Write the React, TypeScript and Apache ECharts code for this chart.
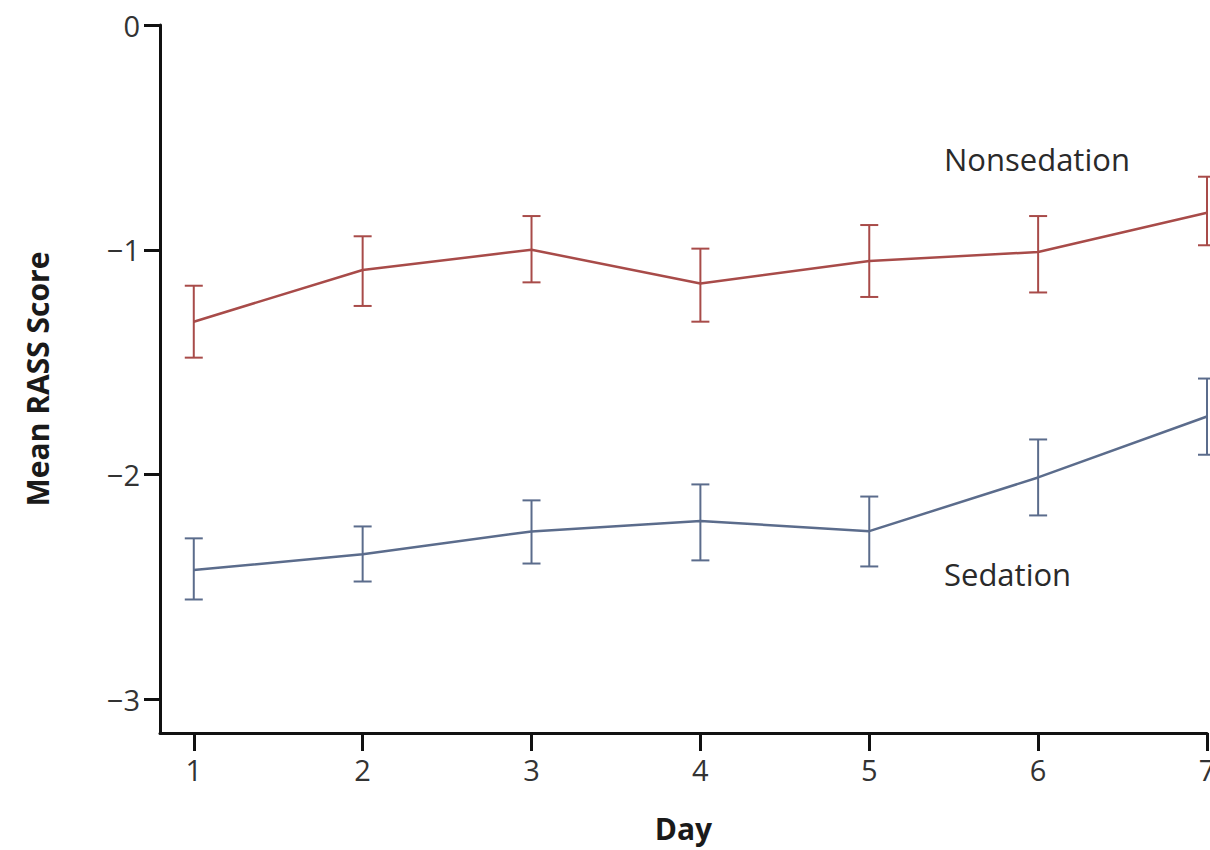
import React, { useEffect, useRef } from "react";
import * as echarts from "echarts";

const days = [1, 2, 3, 4, 5, 6, 7];
const nonsedationMean = [-1.32, -1.09, -1.0, -1.15, -1.05, -1.01, -0.835];
const nonsedationHigh = [-1.16, -0.94, -0.85, -0.995, -0.89, -0.85, -0.675];
const nonsedationLow = [-1.48, -1.25, -1.145, -1.32, -1.21, -1.19, -0.98];
const sedationMean = [-2.425, -2.355, -2.253, -2.207, -2.252, -2.013, -1.742];
const sedationHigh = [-2.284, -2.231, -2.115, -2.044, -2.098, -1.844, -1.573];
const sedationLow = [-2.556, -2.476, -2.396, -2.382, -2.409, -2.182, -1.912];
const yTicks = [0, -1, -2, -3];
const xTicks = [1, 2, 3, 4, 5, 6, 7];

const RED = "#a84b49";
const BLUE = "#5b6c8c";
const FONT = "'Open Sans', 'DejaVu Sans', sans-serif";

function errorSeries(name: string, low: number[], high: number[], color: string) {
  return {
    name: name + " error",
    type: "custom",
    data: days.map((d, i) => [d, low[i], high[i]]),
    z: 3,
    renderItem: (params: any, api: any) => {
      const x = api.value(0);
      const lo = api.coord([x, api.value(1)]);
      const hi = api.coord([x, api.value(2)]);
      const hw = 9;
      const style = { stroke: color, lineWidth: 2 };
      return {
        type: "group",
        children: [
          { type: "line", shape: { x1: lo[0], y1: lo[1], x2: hi[0], y2: hi[1] }, style },
          { type: "line", shape: { x1: lo[0] - hw, y1: lo[1], x2: lo[0] + hw, y2: lo[1] }, style },
          { type: "line", shape: { x1: hi[0] - hw, y1: hi[1], x2: hi[0] + hw, y2: hi[1] }, style },
        ],
      };
    },
  };
}

export default function App() {
  const ref = useRef<HTMLDivElement>(null);
  useEffect(() => {
    document.body.style.margin = "0";
    const chart = echarts.init(ref.current!, null, { renderer: "svg" });
    chart.setOption({
      animation: false,
      backgroundColor: "#ffffff",
      grid: { left: 160, right: 3, top: 25, bottom: 117, containLabel: false, outerBoundsMode: "none" },
      xAxis: {
        type: "value",
        position: "bottom",
        min: 0.8,
        max: 7,
        name: "Day",
        nameLocation: "middle",
        nameGap: 80,
        nameTextStyle: { fontFamily: FONT, fontSize: 30, fontWeight: "bold", color: "#1a1a1a" },
        splitLine: { show: false },
        axisLine: { show: true, onZero: false, lineStyle: { color: "#111", width: 3 } },
        axisTick: { show: true, length: 18, lineStyle: { color: "#111", width: 3 }, customValues: xTicks },
        axisLabel: { margin: 22, fontFamily: FONT, fontSize: 29, color: "#333", customValues: xTicks },
      },
      yAxis: {
        type: "value",
        min: -3.15,
        max: 0,
        name: "Mean RASS Score",
        nameLocation: "middle",
        nameGap: 108,
        nameRotate: 90,
        nameTextStyle: { fontFamily: FONT, fontSize: 30, fontWeight: "bold", color: "#1a1a1a" },
        splitLine: { show: false },
        axisLine: { show: true, onZero: false, lineStyle: { color: "#111", width: 3 } },
        axisTick: { show: true, length: 16, lineStyle: { color: "#111", width: 3 }, customValues: yTicks },
        axisLabel: {
          margin: 20,
          fontFamily: FONT,
          fontSize: 29,
          color: "#333",
          customValues: yTicks,
          formatter: (v: number) => (v < 0 ? "\u2212" + Math.abs(v) : String(v)),
        },
      },
      graphic: [
        { type: "text", left: 944, top: 143, style: { text: "Nonsedation", fontFamily: FONT, fontSize: 31, fill: "#2a2a2a" } },
        { type: "text", left: 944, top: 558, style: { text: "Sedation", fontFamily: FONT, fontSize: 31, fill: "#2a2a2a" } },
      ],
      series: [
        {
          name: "Nonsedation",
          type: "line",
          data: days.map((d, i) => [d, nonsedationMean[i]]),
          symbol: "none",
          lineStyle: { color: RED, width: 2.5 },
          z: 4,
        },
        {
          name: "Sedation",
          type: "line",
          data: days.map((d, i) => [d, sedationMean[i]]),
          symbol: "none",
          lineStyle: { color: BLUE, width: 2.5 },
          z: 4,
        },
        errorSeries("Nonsedation", nonsedationLow, nonsedationHigh, RED),
        errorSeries("Sedation", sedationLow, sedationHigh, BLUE),
      ],
    });
    return () => chart.dispose();
  }, []);
  return <div ref={ref} style={{ width: 1210, height: 850 }} />;
}
